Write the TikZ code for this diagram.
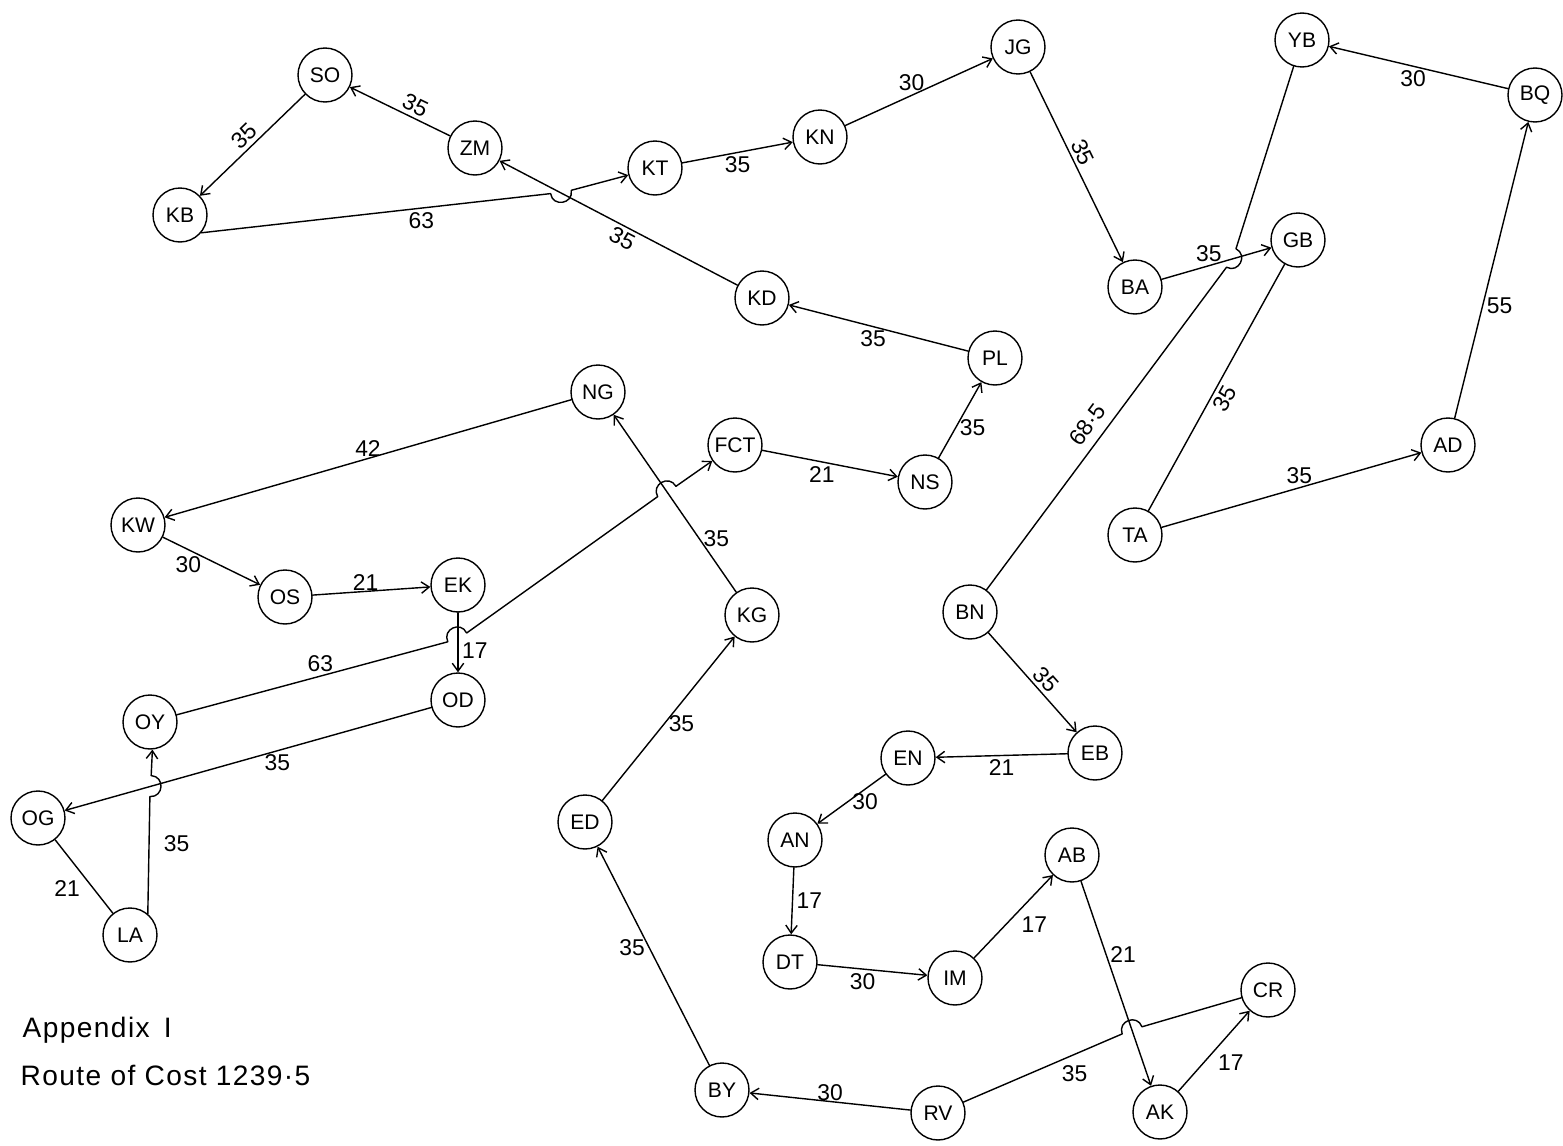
\documentclass[tikz,border=0pt]{standalone}
\usepackage{fontspec}
\setmainfont{Liberation Sans}
\usetikzlibrary{arrows.meta,calc}
\tikzset{
  every picture/.style={line width=0.8pt, line cap=round, line join=round,
    >={Straight Barb[length=4.5pt,width=6.5pt]}},
  % Orte
  town/.style={circle, draw, minimum size=1.08cm, inner sep=0pt,
    font=\fontsize{12}{12}\selectfont},
  % Strecken
  leg/.style={->},
  cost/.style={font=\fontsize{13}{13}\selectfont, inner sep=2pt},
  % Sprung ueber eine kreuzende Strecke
  hop/.style={bend #1=90, looseness=1.7},
  % Text unten links
  note/.style={font=\fontsize{16}{16}\selectfont\addfontfeature{LetterSpace=5},
    anchor=base west, inner sep=0pt},
}

\begin{document}
\begin{tikzpicture}[x=0.02cm, y=0.02cm]
  \useasboundingbox (0,0) rectangle (1563,-1146);
  % ---------- Orte ----------
  \foreach \n/\x/\y in {SO/325/75, ZM/475/148, KB/180/215, KT/655/168, KN/820/137,
      JG/1018/47, YB/1302/40, BQ/1535/95, BA/1135/287, GB/1298/240, KD/762/298,
      PL/995/358, NG/598/392, FCT/735/445, NS/925/482, AD/1448/445, TA/1135/535,
      KW/138/525, OS/285/597, EK/458/585, BN/970/612, KG/752/615, OD/458/700,
      OY/150/722, OG/38/818, LA/130/935, ED/585/822, EN/908/758, EB/1095/753,
      AN/795/840, AB/1072/855, DT/790/962, IM/955/978, CR/1268/990, BY/722/1090,
      RV/938/1113, AK/1160/1112}
    \node[town] (\n) at (\x,-\y) {\n};
  % ---------- Kreuzungen ----------
  \coordinate (h1) at ($(ZM)!0.3!(KD)$);
  \coordinate (h2) at ($(BA)!0.6!(GB)$);
  \coordinate (h3) at ($(AB)!0.68!(AK)$);
  \coordinate (h4) at ($(EK)!0.47!(OD)$);
  \coordinate (h5) at ($(KG)!0.55!(NG)$);
  \coordinate (h6) at ($(OD)!0.73!(OG)$);
  % ---------- Route, oben ----------
  \draw[leg] (ZM) -- node[cost, sloped, above, pos=0.4] {35} (SO);
  \draw[leg] (SO) -- node[cost, sloped, above] {35} (KB);
  \draw[leg] (KB.-40) -- node[cost, below, pos=0.63] {63} ($(h1)!6pt!(KB)$)
    to[hop=right] ($(h1)!6pt!(KT)$) -- (KT);
  \draw[leg] (KT) -- node[cost, below] {35} (KN);
  \draw[leg] (KN) -- node[cost, above, pos=0.45] {30} (JG);
  \draw[leg] (JG) -- node[cost, sloped, above, pos=0.45] {35} (BA);
  \draw[leg] (BA) -- node[cost, above, pos=0.43] {35} (GB);
  \draw (GB) -- node[cost, sloped, below, pos=0.52] {35} (TA);
  \draw[leg] (TA) -- node[cost, above, pos=0.53] {35} (AD);
  \draw[leg] (AD) -- node[cost, right, pos=0.38] {55} (BQ);
  \draw[leg] (BQ) -- node[cost, below, pos=0.53] {30} (YB);
  \draw (YB) -- ($(h2)!6pt!(YB)$) to[hop=left] ($(h2)!6pt!(BN)$)
    -- node[cost, sloped, above=3pt, pos=0.52] {68·5} (BN);
  \draw[leg] (KD) -- node[cost, sloped, below, pos=0.46] {35} (ZM);
  \draw[leg] (PL) -- node[cost, below, pos=0.53] {35} (KD);
  \draw[leg] (NS) -- node[cost, right, pos=0.4] {35} (PL);
  \draw[leg] (FCT) -- node[cost, below, pos=0.44] {21} (NS);
  % ---------- Route, unten ----------
  \draw[leg] (BN) -- node[cost, sloped, above, pos=0.55] {35} (EB);
  \draw[leg] (EB) -- node[cost, below] {21} (EN);
  \draw[leg] (EN) -- node[cost, below, pos=0.3] {30} (AN);
  \draw[leg] (AN) -- node[cost, right] {17} (DT);
  \draw[leg] (DT) -- node[cost, below, pos=0.41] {30} (IM);
  \draw[leg] (IM) -- node[cost, below right, pos=0.55] {17} (AB);
  \draw[leg] (AB) -- node[cost, right, pos=0.36] {21} (AK);
  \draw[leg] (AK) -- node[cost, below right, pos=0.5] {17} (CR);
  \draw (CR) -- ($(h3)!6pt!(CR)$) to[hop=right] ($(h3)!6pt!(RV)$)
    -- node[cost, below=4pt, pos=0.3] {35} (RV);
  \draw[leg] (RV) -- node[cost, above, pos=0.5, inner sep=0pt] {30} (BY);
  \draw[leg] (BY) -- node[cost, left, pos=0.54] {35} (ED);
  \draw[leg] (ED) -- node[cost, right, pos=0.47] {35} (KG);
  \draw[leg] (KG) -- node[cost, right, pos=0.3] {35} (NG);
  % ---------- Route, links ----------
  \draw[leg] (NG) -- node[cost, above, pos=0.5, inner sep=1pt] {42} (KW);
  \draw[leg] (KW) -- node[cost, below left, pos=0.4, inner sep=0pt] {30} (OS);
  \draw[leg] (OS) -- node[cost, above, pos=0.45, inner sep=0pt] {21} (EK);
  \draw[leg] (EK) -- node[cost, right, pos=0.63] {17} (OD);
  \draw[leg] (OD) -- node[cost, below, pos=0.42] {35} (OG);
  \draw (OG) -- node[cost, below left, pos=0.5] {21} (LA);
  \draw[leg] (LA.50) -- node[cost, right=6pt, pos=0.6] {35} ($(h6)!6pt!(LA)$)
    to[hop=right] ($(h6)!6pt!(OY)$) -- (OY.-85);
  \draw[leg] (OY) -- node[cost, above, pos=0.53] {63} ($(h4)!6pt!(OY)$)
    to[hop=left] ($(h4)!6pt!(FCT)$) -- ($(h5)!6pt!(OY)$)
    to[hop=left] ($(h5)!6pt!(FCT)$) -- (FCT);
  % ---------- Beschriftung ----------
  \node[note] (title) at (22,-1037) {Appendix\enspace I};
  \node[note] (total) at (20,-1085) {Route of Cost 1239·5};
\end{tikzpicture}
\end{document}
